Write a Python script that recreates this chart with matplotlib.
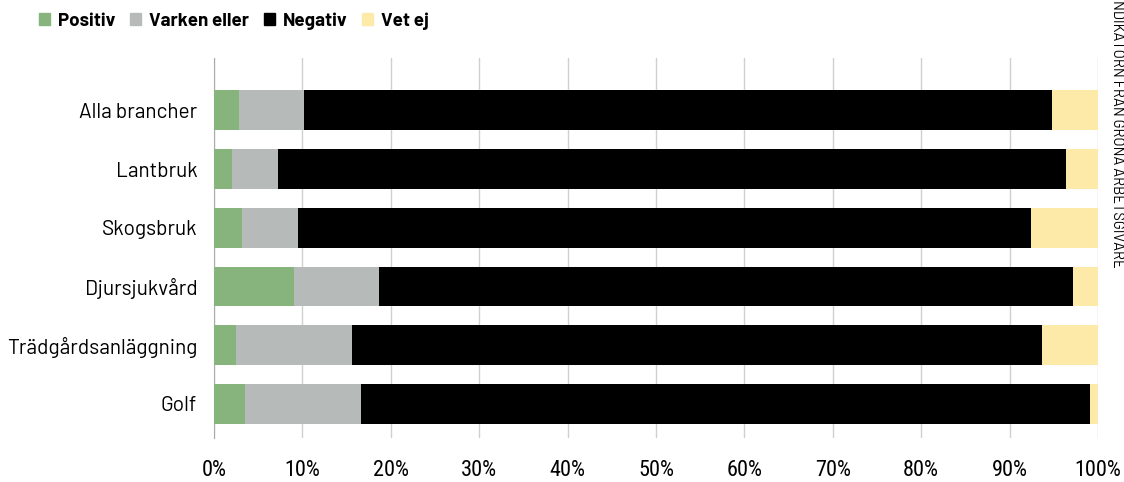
import numpy as np
import matplotlib.pyplot as plt
from matplotlib.patches import Patch

categories = ['Alla brancher', 'Lantbruk', 'Skogsbruk', 'Djursjukvård',
              'Trädgårdsanläggning', 'Golf']
positiv = [2.8, 2.0, 3.2, 9.0, 2.5, 3.5]
varken = [7.4, 5.2, 6.3, 9.7, 13.1, 13.1]
negativ = [84.6, 89.2, 82.9, 78.5, 78.1, 82.5]
vet_ej = [5.2, 3.6, 7.6, 2.8, 6.3, 0.9]
series_names = ['Positiv', 'Varken eller', 'Negativ', 'Vet ej']
colors = ['#86b47c', '#b6bbba', '#000000', '#fdeaa8']
xticks = np.arange(0, 101, 10)

narrow = ['Roboto Condensed', 'Barlow Condensed', 'Roboto']
plain = ['Barlow', 'Roboto']

fig = plt.figure(figsize=(11.24, 4.82), dpi=100)
ax = fig.add_axes([214/1124, 44/482, (1098-214)/1124, (438-58)/482])

y = np.arange(len(categories))
left = np.zeros(len(categories))
for vals, c in zip([positiv, varken, negativ, vet_ej], colors):
    ax.barh(y, vals, left=left, height=0.68, color=c, zorder=3)
    left += np.array(vals)

ax.set_ylim(len(categories) - 1 + 0.58, -0.89)
ax.set_xlim(0, 100)
ax.set_xticks(xticks)
ax.set_xticklabels([f'{t}%' for t in xticks], family=narrow, fontsize=16)
ax.set_yticks(y)
ax.set_yticklabels(categories, fontsize=15, family=plain)
ax.tick_params(axis='y', length=0, pad=12)
ax.tick_params(axis='x', length=0, pad=16)
ax.grid(axis='x', color='#d0d0d0', lw=1, zorder=0)
for s in ['top', 'right', 'bottom']:
    ax.spines[s].set_visible(False)
ax.spines['left'].set_color('#aaaaaa')

handles = [Patch(color=c) for c in colors]
fig.legend(handles, series_names, loc='upper left', bbox_to_anchor=(22/1124, 1.01),
           ncol=4, frameon=False, handlelength=0.6, handleheight=0.6,
           handletextpad=0.4, columnspacing=0.8,
           prop={'family': plain, 'weight': 'bold', 'size': 13.5})

fig.text(1118/1124, 1.0, 'NDIKATORN FRÅN GRÖNA ARBETSGIVARE', rotation=270,
         ha='center', va='top', fontsize=10.5, family=plain)

fig.savefig('out.png', dpi=100)
